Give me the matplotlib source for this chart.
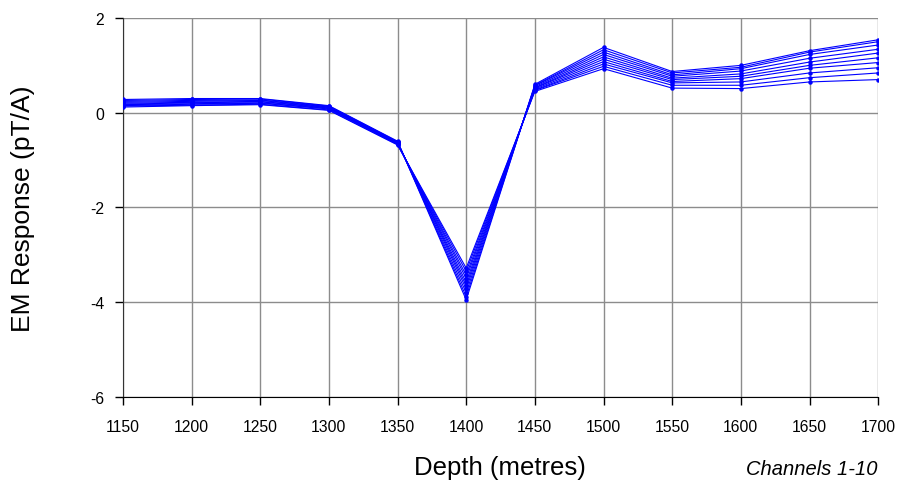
import matplotlib
matplotlib.use("Agg")
import matplotlib.pyplot as plt

plt.rcParams['font.family'] = ['Liberation Sans', 'DejaVu Sans']

depth = [1150, 1200, 1250, 1300, 1350, 1400, 1450, 1500, 1550, 1600, 1650, 1700]

# EM response (pT/A) per channel, channel 1 first
ch1  = [0.28, 0.30, 0.30, 0.15, -0.60, -3.95, 0.60, 1.38, 0.87, 1.00, 1.31, 1.54]
ch2  = [0.26, 0.28, 0.29, 0.14, -0.61, -3.88, 0.58, 1.33, 0.84, 0.96, 1.28, 1.50]
ch3  = [0.24, 0.26, 0.27, 0.13, -0.62, -3.80, 0.57, 1.28, 0.80, 0.93, 1.23, 1.43]
ch4  = [0.22, 0.24, 0.26, 0.12, -0.62, -3.72, 0.55, 1.23, 0.77, 0.88, 1.15, 1.34]
ch5  = [0.20, 0.22, 0.24, 0.11, -0.63, -3.65, 0.53, 1.18, 0.73, 0.82, 1.07, 1.26]
ch6  = [0.18, 0.21, 0.23, 0.10, -0.64, -3.58, 0.52, 1.13, 0.70, 0.77, 1.00, 1.16]
ch7  = [0.17, 0.19, 0.21, 0.09, -0.65, -3.50, 0.50, 1.08, 0.66, 0.72, 0.94, 1.06]
ch8  = [0.15, 0.18, 0.20, 0.08, -0.66, -3.43, 0.48, 1.03, 0.63, 0.65, 0.84, 0.95]
ch9  = [0.14, 0.16, 0.18, 0.06, -0.67, -3.35, 0.47, 0.98, 0.58, 0.58, 0.74, 0.84]
ch10 = [0.12, 0.15, 0.17, 0.05, -0.68, -3.28, 0.45, 0.93, 0.52, 0.51, 0.65, 0.70]
channels = [ch1, ch2, ch3, ch4, ch5, ch6, ch7, ch8, ch9, ch10]

y_ticks = [2, 0, -2, -4, -6]

fig = plt.figure(figsize=(8.97, 4.81), dpi=100)
ax = fig.add_axes([0.137, 0.1726, 0.842, 0.7879])

for vals in channels:
    ax.plot(depth, vals, color='#0000ff', lw=0.8, marker='o', ms=2.2,
            mec='#0000ff', mfc='#0000ff', zorder=3)

ax.set_xlim(1150, 1700)
ax.set_ylim(-6, 2)
ax.set_xticks(depth)
ax.set_yticks(y_ticks)
ax.set_yticklabels([str(v) for v in y_ticks])

ax.grid(True, color='#8c8c8c', lw=1.0, zorder=0)
ax.set_axisbelow(True)
for side in ('top', 'right'):
    ax.spines[side].set_visible(False)
ax.spines['left'].set_color('#333333')
ax.spines['bottom'].set_color('#000000')
ax.tick_params(axis='both', direction='out', length=5.5, width=1,
               labelsize=11.3, colors='#000000')
ax.tick_params(axis='x', pad=10)
ax.tick_params(axis='y', pad=8)

ax.set_ylabel('EM Response (pT/A)', fontsize=19)
ax.yaxis.set_label_coords(-0.117, 0.5)
fig.text(0.557, 0.0125, 'Depth (metres)', fontsize=18.5, ha='center',
         va='baseline')
fig.text(0.978, 0.0125, 'Channels 1-10', fontsize=14.5, style='italic',
         ha='right', va='baseline')

fig.savefig('out.png', dpi=100)
